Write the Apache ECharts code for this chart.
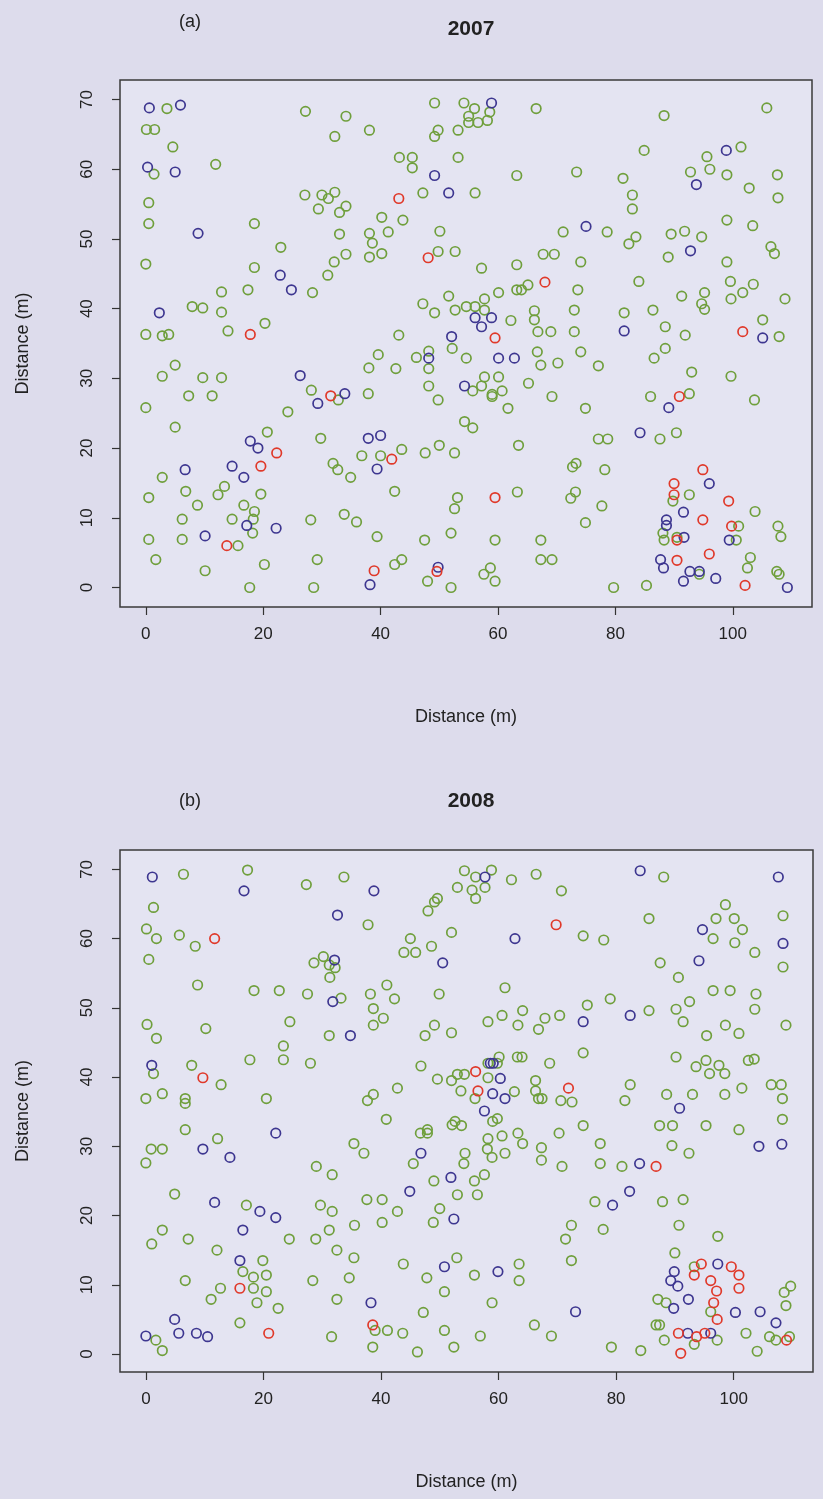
<!DOCTYPE html>
<html>
<head>
<meta charset="utf-8">
<script src="https://cdn.jsdelivr.net/npm/echarts@6/dist/echarts.min.js"></script>
<style>
  html, body { margin: 0; padding: 0; background: #dddcec; }
  #chart { width: 823px; height: 1499px; }
</style>
</head>
<body>
<div id="chart"></div>
<script>
// tick labels
const xTicks = [0, 20, 40, 60, 80, 100];
const yTicks = [0, 10, 20, 30, 40, 50, 60, 70];

// 2007 - panel (a)
const green2007 = [
  [3.6,68.7],[0.1,65.7],[1.5,65.7],[4.6,63.2],[1.4,59.3],[11.9,60.7],[0.5,55.2],[0.5,52.2],[18.5,52.2],[0,46.4],
  [23.0,48.8],[18.5,45.9],[28.4,42.3],[12.9,42.4],[17.4,42.7],[7.9,40.3],[9.7,40.1],[12.9,39.5],[0,36.3],[2.8,36.1],
  [3.9,36.3],[14.0,36.8],[20.3,37.9],[27.2,68.3],[34.1,67.6],[32.2,64.7],[27.1,56.3],[30.0,56.3],[31.1,55.8],[32.2,56.7],
  [29.4,54.3],[33.0,53.8],[34.1,54.7],[33.0,50.7],[34.1,47.8],[32.1,46.7],[31.0,44.8],
  [49.2,69.5],[54.2,69.5],[56.0,68.7],[58.6,68.2],[55.0,67.6],[56.6,66.7],[58.2,67.0],[55.0,66.7],[66.5,68.7],[38.1,65.6],
  [49.8,65.6],[49.2,64.7],[53.2,65.6],[43.2,61.7],[45.4,61.7],[45.4,60.2],[53.2,61.7],[63.2,59.1],[73.4,59.6],[47.2,56.6],
  [56.1,56.6],[40.2,53.1],[43.8,52.7],[38.1,50.8],[41.3,51.0],[38.6,49.4],[38.1,47.4],[40.2,47.9],[50.1,51.1],[49.8,48.2],
  [52.7,48.2],[57.2,45.8],[63.2,46.3],[67.7,47.8],[69.6,47.8],[71.1,51.0],[74.1,46.7],[63.2,42.7],[64.0,42.7],[65.1,43.4],
  [73.6,42.7],[73.0,39.8],[60.1,42.3],[51.6,41.8],[47.2,40.7],[49.2,39.4],[57.7,41.4],[52.7,39.8],[54.6,40.3],[56.1,40.3],
  [57.7,39.8],[62.2,38.3],[66.2,39.7],[66.2,38.4],[66.8,36.7],[69.0,36.7],[73.0,36.7],[43.1,36.2],
  [39.6,33.4],[46.1,33.0],[48.2,33.9],[52.2,34.3],[54.6,32.9],[66.7,33.8],[67.3,31.9],[70.2,32.2],[74.1,33.8],[38.0,31.5],
  [42.6,31.4],[48.2,31.4],[37.9,27.8],[48.2,28.9],[49.8,26.9],[55.7,28.2],[57.2,28.9],[57.7,30.2],[60.1,30.2],[59.0,27.7],
  [59.0,27.4],[60.7,28.2],[65.2,29.3],[61.7,25.7],[69.2,27.4],[74.9,25.7],[54.3,23.8],[55.7,22.9],[63.5,20.4],[36.8,18.9],
  [40.0,18.9],[43.6,19.8],[47.6,19.3],[50.0,20.4],[52.6,19.3],[42.4,13.8],[53.1,12.9],[52.6,11.3],[63.3,13.7],[72.7,17.3],
  [73.3,17.8],[72.4,12.8],[73.2,13.7],[74.9,9.3],[35.9,9.4],[39.4,7.3],[47.5,6.8],[52.0,7.8],[59.5,6.8],[67.3,6.8],
  [67.3,4.0],[69.2,4.0],[42.4,3.3],[43.6,4.0],[48.0,0.9],[52.0,0.0],[58.7,2.8],[57.6,1.9],[59.5,0.9],
  [5.0,31.9],[2.8,30.3],[9.7,30.1],[12.9,30.1],[7.3,27.5],[11.3,27.5],[0,25.8],[5.0,23.0],[28.2,28.3],[32.8,26.9],
  [24.2,25.2],[20.7,22.3],[29.8,21.4],[2.8,15.8],[31.9,17.8],[32.7,16.9],[34.9,15.8],[0.5,12.9],[6.8,13.8],[8.8,11.8],
  [13.4,14.5],[12.3,13.3],[19.6,13.4],[16.7,11.8],[18.5,10.9],[18.3,9.8],[18.2,7.8],[14.7,9.8],[6.2,9.8],[28.1,9.7],
  [33.8,10.5],[0.5,6.9],[6.2,6.9],[15.7,6.0],[1.7,4.0],[10.1,2.4],[20.2,3.3],[29.2,4.0],[17.7,0.0],[28.6,0.0],
  [105.8,68.8],[88.3,67.7],[84.9,62.7],[101.4,63.2],[95.6,61.8],[92.8,59.6],[96.1,60.0],[99.0,59.2],[107.6,59.2],[102.8,57.3],
  [107.7,55.9],[81.3,58.7],[82.9,56.3],[82.9,54.3],[78.6,51.0],[83.5,50.3],[82.3,49.3],[89.5,50.7],[91.8,51.1],[94.7,50.3],
  [99.0,52.7],[103.4,51.9],[106.5,48.9],[107.1,47.9],[89.0,47.4],[99.0,46.7],[84.0,43.9],[99.6,43.9],[101.7,42.3],[103.5,43.5],
  [91.3,41.8],[95.2,42.3],[94.7,40.7],[95.2,39.9],[99.7,41.4],[108.9,41.4],[86.4,39.8],[81.5,39.4],[88.5,37.4],[91.9,36.2],
  [105.1,38.4],[107.9,36.0],
  [88.5,34.3],[86.6,32.9],[77.1,31.8],[93.0,30.9],[99.7,30.3],[86.0,27.4],[92.6,27.8],[103.7,26.9],[77.1,21.3],[78.7,21.3],
  [87.6,21.3],[90.4,22.2],[78.2,16.9],[77.7,11.7],[89.8,12.4],[92.6,13.3],[103.8,10.9],[101.0,8.8],[107.7,8.8],[108.2,7.3],
  [88.1,7.8],[88.3,6.8],[90.5,7.2],[100.6,6.8],[103.0,4.3],[102.5,2.8],[94.3,1.9],[107.5,2.3],[107.9,1.9],[79.7,0.0],
  [85.3,0.3]
];
const blue2007 = [
  [0.6,68.8],[5.9,69.2],[0.3,60.3],[5.0,59.6],[8.9,50.8],[22.9,44.8],[24.8,42.7],[2.3,39.4],
  [58.9,69.5],[49.2,59.1],[51.6,56.6],[75.0,51.8],[56.1,38.7],[58.9,38.7],[57.2,37.4],[52.1,36.0],
  [48.2,32.9],[60.1,32.9],[62.8,32.9],[54.3,28.9],[37.9,21.4],[40.0,21.8],[39.4,17.0],[38.2,0.4],[49.8,2.9],
  [26.3,30.4],[33.9,27.8],[29.3,26.4],[17.8,21.0],[19.1,20.0],[14.7,17.4],[16.7,15.8],[6.7,16.9],[17.2,8.9],[22.2,8.5],[10.1,7.4],
  [98.9,62.7],[93.8,57.8],[92.8,48.3],[81.5,36.8],[105.1,35.8],
  [89.1,25.8],[84.2,22.2],[96.0,14.9],[91.6,10.8],[88.7,9.7],[88.7,8.9],[91.7,7.2],[99.4,6.8],[87.7,4.0],[88.2,2.8],
  [92.7,2.3],[94.3,2.3],[91.6,0.9],[97.1,1.3],[109.3,0.0]
];
const red2007 = [
  [17.8,36.3],[43.1,55.8],[48.1,47.3],[68.0,43.8],[59.5,35.8],[41.9,18.4],[59.5,12.9],[38.9,2.4],[49.6,2.3],[31.5,27.5],
  [22.3,19.3],[19.6,17.4],[13.8,6.0],[101.7,36.7],[90.9,27.4],[94.9,16.9],[90.0,14.9],[90.0,13.3],[99.3,12.4],[94.9,9.7],
  [99.8,8.8],[90.5,6.8],[96.0,4.8],[90.5,3.9],[102.1,0.3]
];

// 2008 - panel (b)
const green2008 = [
  [6.4,69.3],[17.3,69.9],[27.3,67.8],[33.7,68.9],[1.3,64.5],[0.1,61.4],[1.8,60.0],[5.7,60.5],[8.4,58.9],[0.5,57.0],
  [30.2,57.4],[28.6,56.5],[31.2,56.2],[32.2,55.8],[31.3,54.4],[8.8,53.3],[18.4,52.5],[22.7,52.5],[27.5,52.0],[33.2,51.4],
  [0.2,47.6],[1.8,45.6],[10.2,47.0],[24.5,48.0],[31.2,46.0],[23.4,44.5],[17.7,42.5],[23.4,42.5],[28.0,42.0],[1.3,40.5],
  [7.8,41.7],[12.8,38.9],[0,36.9],[2.8,37.6],[6.7,36.9],[6.7,36.2],[20.5,36.9],
  [54.2,69.8],[58.8,69.9],[56.1,68.9],[53.0,67.4],[55.5,67.0],[57.7,67.4],[56.1,65.8],[62.2,68.5],[66.4,69.3],[70.7,66.9],
  [49.6,65.8],[49.1,65.3],[48.0,64.0],[37.8,62.0],[74.4,60.4],[45.0,60.0],[52.0,60.9],[43.9,58.0],[45.9,58.0],[48.6,58.9],
  [41.0,53.3],[38.2,52.0],[42.3,51.3],[49.9,52.0],[61.1,52.9],[38.7,49.9],[40.4,48.5],[38.7,47.5],[49.1,47.5],[47.5,46.0],
  [52.0,46.4],[58.2,48.0],[60.6,48.9],[64.1,49.6],[63.3,47.5],[66.8,46.9],[67.9,48.5],[70.4,48.9],[75.1,50.4],[74.4,43.5],
  [68.7,42.0],[46.8,41.6],[60.1,42.9],[63.2,42.9],[64.0,42.9],[58.2,42.0],[59.8,42.0],[49.6,39.7],[52.0,39.5],[53.0,40.4],
  [54.2,40.4],[58.2,39.9],[53.6,38.0],[56.0,36.9],[62.7,37.9],[66.3,39.5],[66.3,38.0],[66.8,36.9],[67.4,36.9],[70.6,36.6],
  [72.5,36.4],[38.7,37.5],[37.7,36.6],[42.8,38.4],
  [88.1,68.9],[98.6,64.9],[85.6,62.9],[97.0,62.9],[100.1,62.9],[108.4,63.3],[101.5,61.3],[96.5,60.0],[100.2,59.4],[77.9,59.8],
  [103.6,58.0],[108.4,55.9],[87.5,56.5],[90.6,54.4],[96.5,52.5],[99.4,52.5],[103.8,52.0],[103.6,49.8],[92.5,50.9],[90.2,49.8],
  [91.4,48.0],[85.6,49.6],[79.0,51.3],[98.6,47.5],[100.9,46.3],[95.4,46.0],[108.9,47.5],[90.2,42.9],[95.3,42.4],[93.6,41.5],
  [97.5,41.7],[95.9,40.5],[98.5,40.5],[102.5,42.4],[103.5,42.6],[82.4,38.9],[81.5,36.6],[88.6,37.5],[93.0,37.5],[98.5,37.5],
  [101.4,38.4],[106.4,38.9],[108.1,38.9],[108.3,36.9],
  [6.7,32.4],[12.2,31.1],[0.9,29.6],[2.8,29.6],[0,27.6],[35.4,30.4],[29.0,27.1],[31.7,25.9],[4.9,23.1],[17.1,21.5],
  [29.7,21.5],[31.7,20.6],[35.5,18.6],[31.2,17.9],[28.9,16.6],[2.8,17.9],[1.0,15.9],[7.2,16.6],[12.1,15.0],[24.4,16.6],
  [32.5,15.0],[35.4,13.9],[19.9,13.5],[16.5,11.9],[18.3,11.1],[20.5,11.4],[6.7,10.6],[12.7,9.5],[18.3,9.5],[20.5,9.0],
  [11.1,7.9],[18.9,7.4],[22.5,6.6],[28.4,10.6],[32.5,7.9],[34.6,11.0],[16.0,4.5],[1.7,2.0],[2.8,0.5],[31.6,2.5],
  [40.9,33.9],[37.1,29.0],[46.7,31.9],[47.9,32.4],[47.9,31.9],[52.1,33.1],[52.6,33.6],[53.7,33.0],[59.0,33.6],[59.8,34.0],
  [58.2,31.1],[60.6,31.5],[63.3,31.9],[64.1,30.4],[70.3,31.9],[74.4,33.0],[45.5,27.5],[54.3,29.0],[54.1,27.5],[58.1,29.6],
  [58.9,28.4],[61.1,29.0],[67.3,29.8],[67.3,28.0],[70.8,27.1],[49.0,25.0],[55.9,25.0],[57.6,25.9],[53.0,23.0],[56.4,23.0],
  [37.6,22.3],[40.2,22.3],[42.8,20.6],[50.0,21.0],[48.9,19.0],[40.2,19.0],[72.4,18.6],[71.4,16.6],[72.4,13.5],[43.8,13.0],
  [52.9,13.9],[47.8,11.0],[55.9,11.4],[63.5,13.0],[63.5,10.6],[50.8,9.0],[58.9,7.4],[47.2,6.0],[39.0,3.4],[41.1,3.4],
  [43.7,3.0],[50.8,3.4],[56.9,2.6],[66.1,4.2],[69.0,2.6],[38.6,1.0],[46.2,0.3],[52.4,1.0],
  [108.3,33.9],[87.4,33.0],[89.6,33.0],[95.3,33.0],[100.9,32.4],[77.3,30.4],[89.5,30.1],[92.4,29.0],[77.3,27.5],[81.0,27.1],
  [76.4,22.0],[87.9,22.0],[91.4,22.3],[77.8,18.0],[90.7,18.6],[97.3,17.0],[90.0,14.6],[93.3,12.6],[96.1,6.1],[87.1,7.9],
  [88.5,7.4],[86.8,4.2],[87.4,4.2],[109.7,9.8],[108.6,8.9],[108.9,7.0],[97.2,2.0],[93.3,1.4],[88.2,2.0],[102.1,3.0],
  [106.1,2.5],[107.2,2.0],[109.5,2.5],[104.0,0.4],[79.2,1.0],[84.2,0.5]
];
const blue2008 = [
  [1.1,68.9],[16.7,66.9],[32.6,63.4],[32.1,56.9],[31.8,50.9],[34.8,46.0],[1.0,41.7],
  [57.7,68.9],[38.8,66.9],[62.8,60.0],[50.5,56.5],[74.4,48.0],[58.6,42.0],[59.1,42.0],[60.3,39.8],[59.0,37.6],[61.1,36.9],
  [84.1,69.8],[107.6,68.9],[94.7,61.3],[108.4,59.3],[94.1,56.8],[82.4,48.9],
  [9.7,29.6],[14.3,28.4],[22.1,31.9],[11.7,21.9],[19.4,20.6],[22.1,19.7],[16.5,17.9],[16.0,13.5],[4.9,5.0],[0,2.6],
  [5.6,3.0],[8.6,3.0],[10.5,2.5],
  [57.6,35.1],[46.8,29.0],[51.9,25.5],[44.9,23.5],[52.4,19.5],[50.8,12.6],[59.9,11.9],[38.3,7.4],[73.1,6.1],
  [90.8,35.5],[104.3,30.0],[108.2,30.3],[84.0,27.5],[82.3,23.5],[79.4,21.5],[97.3,13.0],[89.9,11.9],[89.3,10.6],[90.5,9.8],
  [92.3,7.9],[89.8,6.6],[100.3,6.0],[104.5,6.1],[107.2,4.5],[92.2,3.0],[96.1,3.0]
];
const red2008 = [
  [11.7,60.0],[9.7,39.9],[69.8,62.0],[56.1,40.8],[56.5,38.0],[71.9,38.4],[16.0,9.5],[20.9,3.0],[38.6,4.2],[86.8,27.1],
  [94.5,13.0],[93.3,11.4],[99.6,12.6],[100.9,11.4],[100.9,9.5],[96.1,10.6],[97.1,9.1],[96.6,7.4],[97.2,5.0],[90.6,3.0],
  [93.7,2.5],[95.1,3.0],[91.0,0.1],[109.0,2.0]
];

const GREEN = '#6f9f3c', BLUE = '#3d3690', RED = '#e0392a';
const FONT = '"Liberation Sans", Arial, sans-serif';

let chart = echarts.init(document.getElementById('chart'));

function xAxisFor(idx) {
    return {
        gridIndex: idx, type: 'value', min: -4.4, max: 113.5, position: 'bottom',
        name: 'Distance (m)', nameLocation: 'middle', nameGap: 101,
        nameTextStyle: { fontFamily: FONT, fontSize: 18, color: '#222' },
        axisLine: { show: false, onZero: false },
        axisTick: { show: true, length: 8, customValues: xTicks, lineStyle: { color: '#333', width: 1.2 } },
        axisLabel: { customValues: xTicks, margin: 19, fontFamily: FONT, fontSize: 17, color: '#222' },
        splitLine: { show: false }
    };
}
function yAxisFor(idx, min) {
    return {
        gridIndex: idx, type: 'value', min: min, max: 72.8, position: 'left',
        name: 'Distance (m)', nameLocation: 'middle', nameGap: 88,
        nameTextStyle: { fontFamily: FONT, fontSize: 18, color: '#222' },
        axisLine: { show: false, onZero: false },
        axisTick: { show: true, length: 8, customValues: yTicks, lineStyle: { color: '#333', width: 1.2 } },
        axisLabel: { customValues: yTicks, rotate: 90, margin: 24, fontFamily: FONT, fontSize: 17, color: '#222' },
        splitLine: { show: false }
    };
}
function pts(data, color, idx) {
    return {
        type: 'scatter', xAxisIndex: idx, yAxisIndex: idx, data: data,
        symbol: 'circle', symbolSize: 9.5, silent: true,
        itemStyle: { color: 'rgba(0,0,0,0)', borderColor: color, borderWidth: 1.7, opacity: 1 }
    };
}

const option = {
    backgroundColor: '#dddcec',
    animation: false,
    title: [
        { text: '(a)', left: 174, top: 8, textStyle: { fontFamily: FONT, fontSize: 18, fontWeight: 'normal', color: '#222' } },
        { text: '2007', left: 466, top: 14, textAlign: 'center', textStyle: { fontFamily: FONT, fontSize: 21, fontWeight: 'bold', color: '#222' } },
        { text: '(b)', left: 174, top: 787, textStyle: { fontFamily: FONT, fontSize: 18, fontWeight: 'normal', color: '#222' } },
        { text: '2008', left: 466, top: 786, textAlign: 'center', textStyle: { fontFamily: FONT, fontSize: 21, fontWeight: 'bold', color: '#222' } }
    ],
    grid: [
        { left: 120, top: 80, width: 692, height: 527, show: true, backgroundColor: '#e4e4f2', borderColor: '#3a3a3a', borderWidth: 1.5 },
        { left: 120, top: 850, width: 693, height: 522, show: true, backgroundColor: '#e4e4f2', borderColor: '#3a3a3a', borderWidth: 1.5 }
    ],
    xAxis: [xAxisFor(0), xAxisFor(1)],
    yAxis: [yAxisFor(0, -2.8), yAxisFor(1, -2.6)],
    series: [
        pts(green2007, GREEN, 0), pts(blue2007, BLUE, 0), pts(red2007, RED, 0),
        pts(green2008, GREEN, 1), pts(blue2008, BLUE, 1), pts(red2008, RED, 1)
    ]
};

chart.setOption(option);

window.addEventListener('resize', function () {
    chart.resize();
});
</script>
</body>
</html>
